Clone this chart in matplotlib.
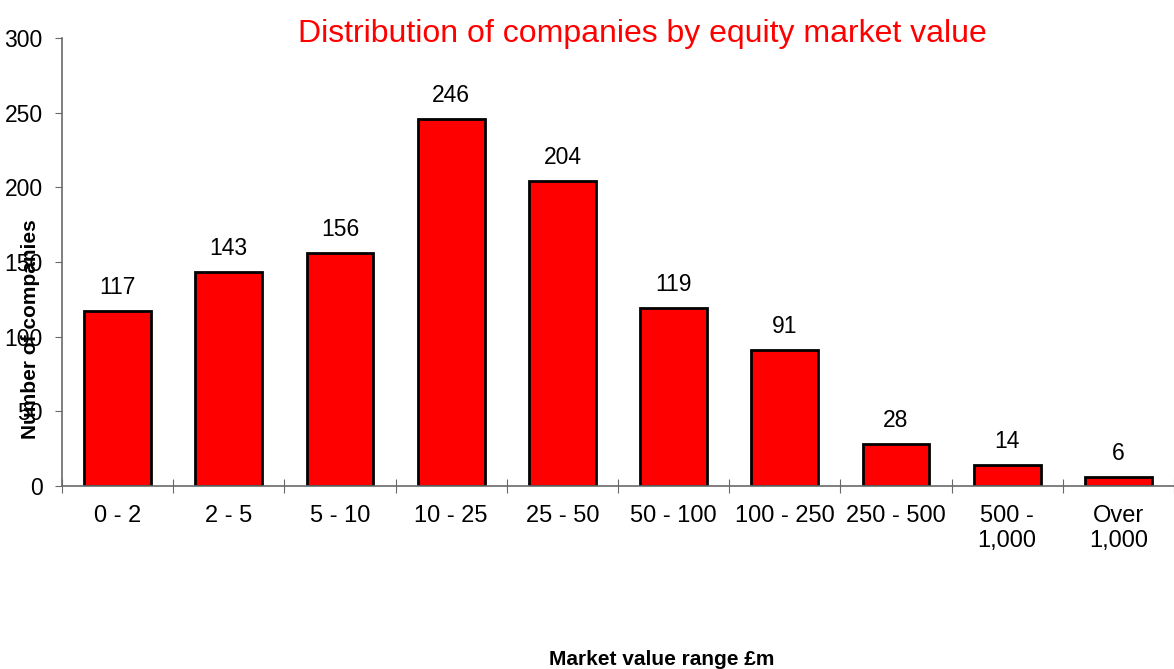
import numpy as np
import matplotlib.pyplot as plt

plt.rcParams['font.family'] = ['Liberation Sans', 'DejaVu Sans']

categories = ['0 - 2', '2 - 5', '5 - 10', '10 - 25', '25 - 50', '50 - 100',
              '100 - 250', '250 - 500', '500 -\n1,000', 'Over\n1,000']
counts = [117, 143, 156, 246, 204, 119, 91, 28, 14, 6]
yticks = [0, 50, 100, 150, 200, 250, 300]

fig = plt.figure(figsize=(11.74, 6.69), dpi=100)
ax = fig.add_axes([0.0528, 0.2735, 0.9472, 0.6697])

x = np.arange(len(categories))
ax.bar(x, counts, width=0.6, color='#ff0000', edgecolor='black', linewidth=2, zorder=2)

for xi, c in zip(x, counts):
    ax.annotate(str(c), (xi, c), xytext=(0, 17), textcoords='offset points',
                ha='center', va='center', fontsize=16.5)

ax.set_xlim(-0.5, len(categories) - 0.5)
ax.set_ylim(0, 300)
ax.set_yticks(yticks)

# x ticks sit between the categories, labels in the middle
ax.set_xticks(np.arange(len(categories) + 1) - 0.5)
ax.set_xticklabels([])
ax.set_xticks(x, minor=True)
ax.set_xticklabels(categories, minor=True, fontsize=17, linespacing=1.15)
ax.tick_params(axis='x', which='major', direction='inout', length=10, color='dimgray')
ax.tick_params(axis='x', which='minor', length=0, pad=14)
ax.tick_params(axis='y', direction='out', length=5, pad=9, labelsize=16.5, color='dimgray')

for s in ['top', 'right']:
    ax.spines[s].set_visible(False)
for s in ['left', 'bottom']:
    ax.spines[s].set_color('dimgray')
    ax.spines[s].set_linewidth(1.2)

fig.text(0.547, 0.949, 'Distribution of companies by equity market value',
         color='#ff0000', fontsize=23, ha='center', va='center')
fig.text(0.5635, 0.0135, 'Market value range £m', fontsize=15, fontweight='bold',
         ha='center', va='center')
fig.text(0.026, 0.508, 'Number of companies', fontsize=15, fontweight='bold',
         rotation=90, ha='center', va='center')

plt.savefig('out.png', dpi=100)
